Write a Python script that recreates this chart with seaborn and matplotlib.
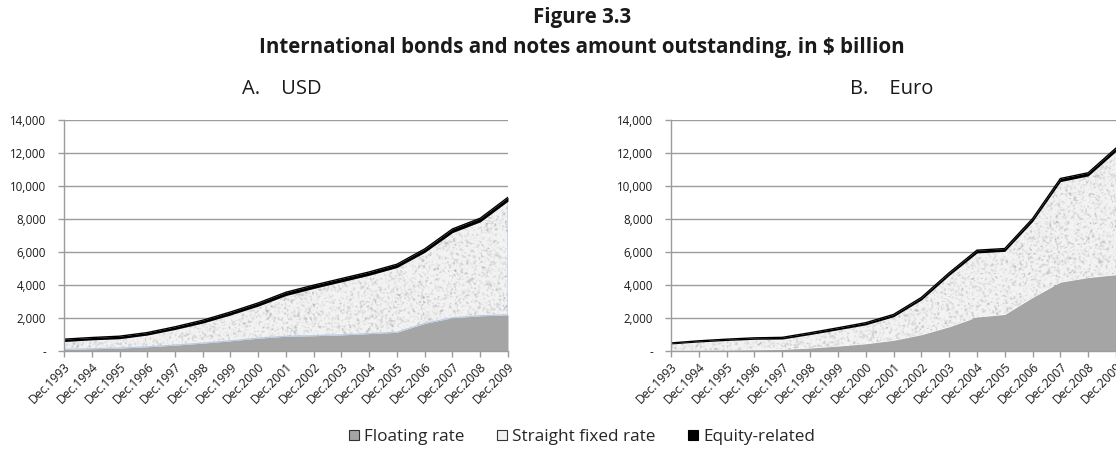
import numpy as np
import pandas as pd
import matplotlib
matplotlib.use("Agg")
import matplotlib.pyplot as plt
import seaborn as sns
from matplotlib.patches import Patch

# ---- data (amount outstanding, $ billion) ----
periods = ["Dec.1993", "Dec.1994", "Dec.1995", "Dec.1996", "Dec.1997", "Dec.1998",
           "Dec.1999", "Dec.2000", "Dec.2001", "Dec.2002", "Dec.2003", "Dec.2004",
           "Dec.2005", "Dec.2006", "Dec.2007", "Dec.2008", "Dec.2009"]

usd_floating = [80, 120, 160, 240, 340, 460, 600, 760, 880, 910, 960, 1040, 1120,
                1660, 2000, 2120, 2180]
usd_fixed = [480, 540, 570, 710, 950, 1220, 1570, 1950, 2470, 2870, 3220, 3540, 3930,
             4310, 5170, 5700, 6900]
usd_equity = [140, 140, 150, 150, 160, 170, 180, 190, 200, 200, 200, 200, 200,
              210, 220, 220, 230]

eur_floating = [10, 20, 30, 50, 80, 160, 280, 420, 630, 970, 1450, 2040, 2200,
                3230, 4160, 4440, 4610]
eur_fixed = [400, 510, 590, 640, 630, 820, 990, 1150, 1430, 2110, 3120, 3890, 3830,
             4610, 6100, 6170, 7490]
eur_equity = [60, 70, 80, 90, 100, 110, 120, 130, 140, 150, 160, 170, 170,
              180, 190, 190, 200]

y_ticks = [0, 2000, 4000, 6000, 8000, 10000, 12000, 14000]
y_labels = ["-", "2,000", "4,000", "6,000", "8,000", "10,000", "12,000", "14,000"]

series_names = ["Floating rate", "Straight fixed rate", "Equity-related"]

sns.set_theme(style="white")
plt.rcParams["font.family"] = ["Open Sans", "DejaVu Sans"]

FLOAT_COLOR = "#a5a5a5"
GRID_COLOR = "#9c9c9c"
TEXT_COLOR = "#1a1a1a"
rng = np.random.default_rng(11)


def granite(h, w):
    """Speckled light-grey fill used for the fixed-rate band."""
    n = rng.normal(0, 1, (h, w))
    n = (n + np.roll(n, 1, 0) + np.roll(n, 1, 1) + np.roll(np.roll(n, 1, 0), 1, 1)) / 2.0
    img = 243 - 20 * np.clip(n, 0, None)
    return np.clip(img, 175, 250)


def draw_panel(ax, floating, fixed, equity, fixed_edge=None):
    x = np.arange(len(periods))
    f = np.array(floating, float)
    s = f + np.array(fixed, float)
    t = s + np.array(equity, float)

    ax.fill_between(x, 0, f, color=FLOAT_COLOR, lw=0, zorder=2)
    fixed_poly = ax.fill_between(x, f, s, color="none", lw=0, zorder=2)
    tex = ax.imshow(granite(240, 460), cmap="gray", vmin=0, vmax=255,
                    extent=(0, len(periods) - 1, 0, 14000), aspect="auto",
                    interpolation="bilinear", zorder=2)
    tex.set_clip_path(fixed_poly.get_paths()[0], transform=ax.transData)
    if fixed_edge:
        ax.fill_between(x, f, s, facecolor="none", edgecolor=fixed_edge, lw=0.9, zorder=3)
    ax.fill_between(x, s, t, color="black", lw=0, zorder=4)

    df = pd.DataFrame({"period": x, "total": t})
    sns.lineplot(data=df, x="period", y="total", color="black", lw=1.0, ax=ax, zorder=5)

    ax.set_xlim(0, len(periods) - 1)
    ax.set_ylim(0, 14000)
    ax.set_yticks(y_ticks)
    ax.set_yticklabels(y_labels, fontsize=8.3, color=TEXT_COLOR)
    ax.set_xticks(x)
    ax.set_xticklabels(periods, rotation=45, ha="right", rotation_mode="anchor",
                       fontsize=8.7, color=TEXT_COLOR)
    ax.set_xlabel("")
    ax.set_ylabel("")
    ax.grid(axis="y", color=GRID_COLOR, lw=1.0, zorder=1)
    ax.set_axisbelow(True)
    for side in ("top", "right"):
        ax.spines[side].set_visible(False)
    for side in ("left", "bottom"):
        ax.spines[side].set_color(GRID_COLOR)
        ax.spines[side].set_linewidth(1.0)
        ax.spines[side].set_zorder(6)
    ax.tick_params(axis="y", which="major", left=True, length=4, width=1.0,
                   color=GRID_COLOR, pad=9)
    ax.tick_params(axis="x", which="major", bottom=True, length=4, width=1.0,
                   color=GRID_COLOR, pad=3)


fig = plt.figure(figsize=(11.16, 4.62), dpi=100)
H = 462.0
W = 1116.0
ax1 = fig.add_axes([64 / W, (H - 350.7) / H, 444 / W, 230.7 / H])
ax2 = fig.add_axes([671 / W, (H - 350.7) / H, 445 / W, 230.7 / H])

draw_panel(ax1, usd_floating, usd_fixed, usd_equity, fixed_edge="#b8cce4")
draw_panel(ax2, eur_floating, eur_fixed, eur_equity)

# panel headings
fig.text(281.5 / W, 1 - 89 / H, "A.    USD", ha="center", va="center",
         fontsize=14.5, color=TEXT_COLOR)
fig.text(892 / W, 1 - 89 / H, "B.    Euro", ha="center", va="center",
         fontsize=14.5, color=TEXT_COLOR)

fig.text(582 / W, 1 - 18 / H, "Figure 3.3", ha="center", va="center",
         fontsize=14.8, fontweight="bold", color=TEXT_COLOR)
fig.text(582 / W, 1 - 47 / H, "International bonds and notes amount outstanding, in $ billion",
         ha="center", va="center", fontsize=14.8, fontweight="bold", color=TEXT_COLOR)

handles = [
    Patch(facecolor=FLOAT_COLOR, edgecolor="#333333", lw=0.8),
    Patch(facecolor="#f0f0f0", edgecolor="#333333", lw=0.8),
    Patch(facecolor="black", edgecolor="black", lw=0.8),
]
fig.legend(handles, series_names, loc="center", bbox_to_anchor=(582 / W, 1 - 437 / H),
           ncol=3, frameon=False, fontsize=12.3, handlelength=0.6, handleheight=0.6,
           handletextpad=0.3, columnspacing=1.9)

fig.savefig("out.png", dpi=100)
